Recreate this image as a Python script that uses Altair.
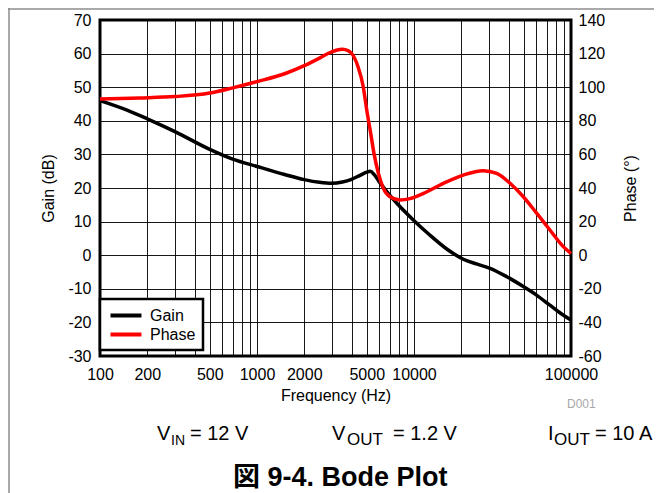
import altair as alt
import pandas as pd

# ---------------- data ----------------
gain_freq = [100, 150, 200, 300, 500, 700, 1000, 1500, 2000, 2500, 3000, 3500, 4000,
             4500, 5000, 5250, 5600, 6000, 6850, 7800, 9900, 12600, 16000, 20600,
             25000, 30500, 39000, 50000, 60000, 73000, 89000, 100000]
gain_db = [46.0, 43.1, 40.6, 36.8, 31.5, 28.6, 26.4, 24.0, 22.5, 21.7, 21.4, 21.8, 22.6,
           23.7, 24.7, 25.0, 23.9, 21.9, 18.4, 15.4, 10.5, 6.0, 2.0, -1.2,
           -2.6, -3.9, -6.4, -9.4, -11.8, -14.8, -17.8, -19.3]

phase_freq = [100, 180, 300, 500, 700, 1000, 1500, 2000, 2500, 2900, 3200, 3500, 3800, 4000,
              4400, 4750, 5000, 5300, 5560, 5930, 6380, 7030, 8150, 9440, 11500, 15400,
              20600, 27600, 33600, 40900, 49700, 60400, 73400, 89300, 100000]
phase_deg = [93.0, 93.6, 94.4, 96.5, 99.6, 103.3, 108.0, 112.8, 117.3, 120.5, 122.0, 122.6, 121.8, 120.2,
             112.2, 100.3, 86.4, 72.5, 60.6, 48.8, 39.8, 34.8, 32.9, 33.7, 36.8, 42.8,
             47.7, 50.3, 48.7, 42.8, 34.8, 25.0, 15.0, 5.1, 1.0]

series_names = ["Gain", "Phase"]
series_colors = ["#000000", "#ff0000"]

x_grid = [100, 200, 300, 400, 500, 600, 700, 800, 900,
          1000, 2000, 3000, 4000, 5000, 6000, 7000, 8000, 9000,
          10000, 20000, 30000, 40000, 50000, 60000, 70000, 80000, 90000, 100000]
x_labels = [100, 200, 500, 1000, 2000, 5000, 10000, 100000]
gain_ticks = [-30, -20, -10, 0, 10, 20, 30, 40, 50, 60, 70]
phase_ticks = [-60, -40, -20, 0, 20, 40, 60, 80, 100, 120, 140]

FONT = "Liberation Sans"
W, H = 471, 336

df = pd.DataFrame({
    "freq": gain_freq + phase_freq,
    "value": gain_db + phase_deg,
    "series": [series_names[0]] * len(gain_freq) + [series_names[1]] * len(phase_freq),
})

label_list = "[" + ",".join(str(v) for v in x_labels) + "]"
x_enc = alt.X(
    "freq:Q",
    scale=alt.Scale(type="log", domain=[100, 100000], nice=False),
    axis=alt.Axis(
        values=x_grid,
        labelExpr=f"indexof({label_list}, datum.value) >= 0 ? ('' + datum.value) : ''",
        title="Frequency (Hz)",
        labelPadding=10,
        titleY=44,
        titleBaseline="alphabetic",
    ),
)

color_enc = alt.Color(
    "series:N",
    scale=alt.Scale(domain=series_names, range=series_colors),
    legend=alt.Legend(
        orient="none", legendX=0, legendY=279, title=None, direction="vertical",
        fillColor="white", strokeColor="black", padding=7,
        labelFontSize=16, labelFont=FONT, labelColor="black",
        symbolType="M-0.8,0L3.33,0", symbolStrokeWidth=4, symbolSize=225,
        labelOffset=24, rowPadding=1,
    ),
)

gain_line = alt.Chart(df).transform_filter(
    alt.datum.series == series_names[0]
).mark_line(strokeWidth=3.5, interpolate="monotone").encode(
    x=x_enc,
    y=alt.Y(
        "value:Q",
        scale=alt.Scale(domain=[-30, 70], nice=False, zero=False),
        axis=alt.Axis(
            values=gain_ticks, title="Gain (dB)", grid=True,
            labelExpr="'' + datum.value",
            labelPadding=9, titleAngle=270, titleX=-47, titleY=168,
            titleAlign="center", titleBaseline="alphabetic",
        ),
    ),
    color=color_enc,
)

phase_line = alt.Chart(df).transform_filter(
    alt.datum.series == series_names[1]
).mark_line(strokeWidth=3.5, interpolate="monotone").encode(
    x=x_enc,
    y=alt.Y(
        "value:Q",
        scale=alt.Scale(domain=[-60, 140], nice=False, zero=False),
        axis=alt.Axis(
            orient="right", values=phase_ticks, title="Phase (°)", grid=False,
            labelExpr="'' + datum.value",
            labelPadding=7, titleAngle=270, titleX=64, titleY=168,
            titleAlign="center", titleBaseline="alphabetic",
        ),
    ),
    color=color_enc,
)

dummy = pd.DataFrame({"k": [0]})


def txt(s, x, y, size, weight="normal", color="black", font=FONT, baseline="alphabetic"):
    return alt.Chart(dummy).mark_text(
        text=s, align="left", baseline=baseline, fontSize=size, fontWeight=weight,
        color=color, font=font,
    ).encode(x=alt.value(x), y=alt.value(y))


annotations = [
    txt("V", 57, 420, 20), txt("IN", 71, 425, 14), txt("= 12 V", 90, 420, 20),
    txt("V", 232, 420, 20), txt("OUT", 247, 425, 17), txt("= 1.2 V", 293, 420, 20),
    txt("I", 448, 420, 20), txt("OUT", 454, 425, 17), txt("= 10 A", 495, 420, 20),
    txt("D001", 467, 384, 12, color="#a8a8a8", baseline="middle"),
    txt("図 9-4. Bode Plot", 133, 466, 27, weight="bold",
        font="Liberation Sans, Noto Sans CJK JP"),
]

border_top = alt.Chart(dummy).mark_rule(color="#8c8c8c", strokeWidth=1.5).encode(
    x=alt.value(-92), x2=alt.value(560), y=alt.value(-11)
)
border_left = alt.Chart(dummy).mark_rule(color="#8c8c8c", strokeWidth=1.5).encode(
    x=alt.value(-91), y=alt.value(-12), y2=alt.value(480)
)

chart = alt.layer(
    gain_line, phase_line, border_top, border_left, *annotations
).resolve_scale(
    y="independent"
).properties(
    width=W, height=H,
    autosize=alt.AutoSizeParams(type="none"),
    padding={"left": 92, "top": 12, "right": 83, "bottom": 137},
).configure_view(
    stroke="black", strokeWidth=3
).configure_axis(
    labelFont=FONT, titleFont=FONT, labelFontSize=16, titleFontSize=16,
    titleFontWeight="normal", labelColor="black", titleColor="black",
    domain=False, ticks=False, gridColor="black", gridWidth=1, gridOpacity=0.9,
    labelFlush=False, labelOverlap=False, labelBound=False,
).configure_legend(
    strokeWidth=2.5
)

chart.save("out.html", embed_options={"renderer": "svg", "actions": False})
